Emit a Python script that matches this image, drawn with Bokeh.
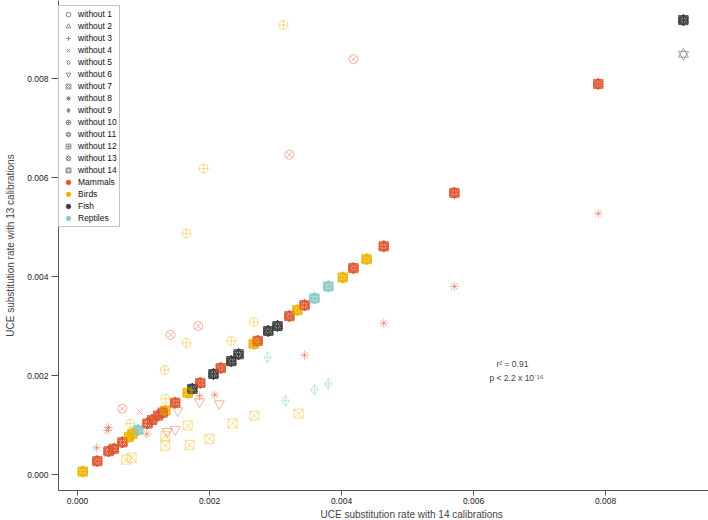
from bokeh.plotting import figure
from bokeh.models import (Range1d, FixedTicker, PrintfTickFormatter, Legend, LegendItem,
                          Label, Title, ColumnDataSource)
from bokeh.embed import file_html
from bokeh.resources import INLINE

# ---------------- data (rates) ----------------
GROUPS = ["Mammals", "Birds", "Fish", "Reptiles"]
GROUP_COLORS = ["#DE5631", "#F0B400", "#3C3C3C", "#8CC9C9"]

# each species: rate with 14 calibrations (x) and, on the diagonal, with 13 (y)
species_x = [0.00008, 0.00078, 0.00083, 0.00133, 0.00167, 0.00267, 0.00333, 0.00402, 0.00438,
             0.00030, 0.00047, 0.00055, 0.00068, 0.00106, 0.00113, 0.00122, 0.00129, 0.00148,
             0.00186, 0.00217, 0.00273, 0.00321, 0.00344, 0.00418, 0.00464, 0.00571, 0.00789,
             0.00174, 0.00206, 0.00233, 0.00244, 0.00289, 0.00303, 0.00918,
             0.00092, 0.00359, 0.00380]
species_y = [0.00006, 0.00076, 0.00082, 0.00129, 0.00165, 0.00264, 0.00332, 0.00398, 0.00435,
             0.00027, 0.00047, 0.00052, 0.00065, 0.00103, 0.00110, 0.00119, 0.00125, 0.00145,
             0.00185, 0.00215, 0.00270, 0.00320, 0.00342, 0.00417, 0.00461, 0.00569, 0.00789,
             0.00173, 0.00203, 0.00229, 0.00243, 0.00290, 0.00300, 0.00918,
             0.00090, 0.00356, 0.00380]
species_group = ["Birds"] * 9 + ["Mammals"] * 18 + ["Fish"] * 7 + ["Reptiles"] * 3

# runs that leave the diagonal: which calibration was dropped, x, y, group
off_run = [4,
           6, 6, 6, 6, 6,
           7, 7, 7, 7, 7, 7, 7, 7, 7, 7,
           8, 8, 8, 8, 8, 8, 8, 8, 8, 8,
           9, 9, 9, 9,
           10, 10, 10, 10, 10, 10, 10, 10, 10,
           11,
           13, 13, 13, 13, 13]
off_x = [0.00094,
         0.00136, 0.00148, 0.00185, 0.00215, 0.00152,
         0.00167, 0.00268, 0.00335, 0.00235, 0.00200, 0.00170, 0.00133, 0.00133, 0.00074, 0.00082,
         0.00047, 0.00045, 0.00029, 0.00105, 0.00185, 0.00208, 0.00344, 0.00464, 0.00571, 0.00789,
         0.00288, 0.00315, 0.00359, 0.00380,
         0.00312, 0.00191, 0.00165, 0.00165, 0.00267, 0.00233, 0.00132, 0.00133, 0.00080,
         0.00918,
         0.00418, 0.00321, 0.00141, 0.00183, 0.00068]
off_y = [0.00127,
         0.00087, 0.00091, 0.00147, 0.00143, 0.00129,
         0.00099, 0.00119, 0.00123, 0.00103, 0.00072, 0.00060, 0.00078, 0.00058, 0.00030, 0.00034,
         0.00095, 0.00089, 0.00054, 0.00082, 0.00159, 0.00161, 0.00241, 0.00306, 0.00380, 0.00527,
         0.00237, 0.00149, 0.00171, 0.00183,
         0.00908, 0.00618, 0.00487, 0.00266, 0.00308, 0.00270, 0.00211, 0.00153, 0.00103,
         0.00849,
         0.00839, 0.00646, 0.00282, 0.00300, 0.00133]
off_group = ["Mammals",
             "Mammals", "Mammals", "Mammals", "Mammals", "Mammals",
             "Birds", "Birds", "Birds", "Birds", "Birds", "Birds", "Birds", "Birds", "Birds", "Birds",
             "Mammals", "Mammals", "Mammals", "Mammals", "Mammals", "Mammals", "Mammals", "Mammals",
             "Mammals", "Mammals",
             "Reptiles", "Reptiles", "Reptiles", "Reptiles",
             "Birds", "Birds", "Birds", "Birds", "Birds", "Birds", "Birds", "Birds", "Birds",
             "Fish",
             "Mammals", "Mammals", "Mammals", "Mammals", "Mammals"]

run_labels = ["without %d" % k for k in range(1, 15)]
# R plotting symbols 1..14 rendered with Bokeh markers (some are two overlaid markers)
run_markers = [["circle"], ["triangle"], ["cross"], ["x"], ["diamond"], ["inverted_triangle"],
               ["square_x"], ["asterisk"], ["diamond_cross"], ["circle_cross"],
               ["triangle", "inverted_triangle"], ["square_cross"], ["circle_x"],
               ["square", "triangle"]]

x_ticks = [0.0, 0.002, 0.004, 0.006, 0.008]
y_ticks = [0.0, 0.002, 0.004, 0.006, 0.008]

FONT = "Liberation Sans"
color_of = dict(zip(GROUPS, GROUP_COLORS))
NAN = float("nan")

p = figure(width=708, height=520, output_backend="svg", toolbar_location=None,
           x_range=Range1d(-0.000288, 0.00956), y_range=Range1d(-0.000323, 0.009576),
           min_border_left=58, min_border_right=0, min_border_top=0, min_border_bottom=30)
p.outline_line_color = None
p.grid.visible = False
p.background_fill_color = "white"

for k in range(14):
    run = k + 1
    xs = list(species_x) + [x for r, x in zip(off_run, off_x) if r == run]
    ys = list(species_y) + [y for r, y in zip(off_run, off_y) if r == run]
    gs = list(species_group) + [g for r, g in zip(off_run, off_group) if r == run]
    src = ColumnDataSource(dict(x=xs, y=ys, c=[color_of[g] for g in gs]))
    for m in run_markers[k]:
        size = 10 if "triangle" in m else (11 if "diamond" in m else 9)
        p.scatter("x", "y", source=src, marker=m, size=size, line_color="c",
                  fill_color=None, line_alpha=0.45, line_width=1)

# legend (glyph-only renderers, one hidden NaN point each)
items = []
for k in range(14):
    rs = []
    for m in run_markers[k]:
        rs.append(p.scatter(x=[NAN], y=[NAN], marker=m, size=6, line_color="#8a8a8a",
                            fill_color=None, line_width=1))
    items.append(LegendItem(label=run_labels[k], renderers=rs))
for g, c in zip(GROUPS, GROUP_COLORS):
    r = p.scatter(x=[NAN], y=[NAN], marker="circle", size=4, line_color=c, fill_color=c,
                  line_width=0.5)
    items.append(LegendItem(label=g, renderers=[r]))

legend = Legend(items=items, location=(0, 263), label_text_font=FONT,
                label_text_font_size="8.5px", label_text_color="#111111",
                label_height=12, glyph_height=12, glyph_width=14,
                spacing=0, padding=2, margin=0, label_standoff=3,
                border_line_color="#888888", border_line_width=1, background_fill_alpha=1)
p.add_layout(legend)

# axes
for ax in (p.xaxis, p.yaxis):
    ax.axis_line_color = "#555555"
    ax.major_tick_line_color = "#555555"
    ax.minor_tick_line_color = None
    ax.major_tick_in = 0
    ax.major_label_text_font = FONT
    ax.major_label_text_font_size = "8.5px"
    ax.major_label_text_color = "#222222"
    ax.formatter = PrintfTickFormatter(format="%.3f")
p.xaxis.ticker = FixedTicker(ticks=x_ticks)
p.yaxis.ticker = FixedTicker(ticks=y_ticks)
p.xaxis.major_tick_out = 5
p.xaxis.major_label_standoff = 2
p.yaxis.major_tick_out = 7
p.yaxis.major_label_standoff = 3
p.yaxis.axis_label = "UCE substitution rate with 13 calibrations"
p.yaxis.axis_label_text_font = FONT
p.yaxis.axis_label_text_font_size = "10px"
p.yaxis.axis_label_text_font_style = "normal"
p.yaxis.axis_label_standoff = 8

p.add_layout(Title(text="UCE substitution rate with 14 calibrations", align="left", offset=262,
                   text_font=FONT, text_font_size="10px", text_font_style="normal",
                   standoff=0), "below")

p.add_layout(Label(x=0.00659, y=0.00224, text="r² = 0.91", text_align="center",
                   text_baseline="middle", text_font=FONT, text_font_size="8.5px"))
p.add_layout(Label(x=0.00665, y=0.00194, text="p < 2.2 x 10⁻¹⁶", text_align="center",
                   text_baseline="middle", text_font=FONT, text_font_size="8.5px"))

open("out.html", "w").write(file_html(p, INLINE))
